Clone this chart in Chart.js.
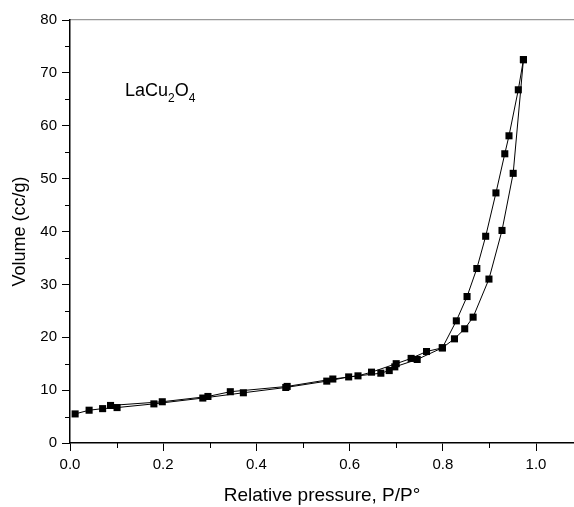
<!DOCTYPE html>
<html>
<head>
<meta charset="utf-8">
<script src="https://cdn.jsdelivr.net/npm/chart.js@4.4.1/dist/chart.umd.min.js"></script>
<style>
  html, body { margin: 0; padding: 0; background: #fff; }
  #box { width: 574px; height: 507px; }
</style>
</head>
<body>
<div id="box"><canvas id="myChart"></canvas></div>
<script>
// adsorption branch (low -> high pressure)
const adsX = [0.011, 0.041, 0.070, 0.101, 0.180, 0.285, 0.372, 0.463, 0.551, 0.598, 0.667, 0.685, 0.697, 0.745, 0.799, 0.825, 0.847, 0.865, 0.899, 0.927, 0.951, 0.973];
const adsY = [5.5, 6.2, 6.5, 6.7, 7.4, 8.5, 9.5, 10.5, 11.7, 12.5, 13.2, 13.7, 14.4, 15.8, 18.0, 19.7, 21.6, 23.8, 31.0, 40.2, 51.0, 72.5];
// desorption branch (high -> low pressure)
const desX = [0.973, 0.962, 0.942, 0.933, 0.914, 0.892, 0.873, 0.852, 0.829, 0.799, 0.765, 0.732, 0.700, 0.647, 0.618, 0.564, 0.466, 0.344, 0.296, 0.198, 0.087];
const desY = [72.5, 66.8, 58.1, 54.7, 47.3, 39.1, 33.0, 27.7, 23.1, 18.0, 17.3, 16.0, 15.0, 13.4, 12.7, 12.1, 10.7, 9.7, 8.8, 7.8, 7.1];

const xTicks = [0, 0.2, 0.4, 0.6, 0.8, 1.0];
const yTicks = [0, 10, 20, 30, 40, 50, 60, 70, 80];
const xMinor = [0.1, 0.3, 0.5, 0.7, 0.9];
const yMinor = [5, 15, 25, 35, 45, 55, 65, 75];

const FONT = 'Arial, "Liberation Sans", sans-serif';

function toPoints(xs, ys) {
    return xs.map((x, i) => ({ x: x, y: ys[i] }));
}

// short minor ticks + the sample name
const extrasPlugin = {
    id: 'extras',
    afterDraw(chart) {
        const { ctx, chartArea } = chart;
        const xs = chart.scales.x, ys = chart.scales.y;
        ctx.save();
        ctx.strokeStyle = '#000';
        ctx.lineWidth = 1;
        ctx.beginPath();
        xMinor.forEach(v => {
            const px = Math.round(xs.getPixelForValue(v)) + 0.5;
            ctx.moveTo(px, chartArea.bottom);
            ctx.lineTo(px, chartArea.bottom + 5);
        });
        yMinor.forEach(v => {
            const py = Math.round(ys.getPixelForValue(v)) + 0.5;
            ctx.moveTo(chartArea.left, py);
            ctx.lineTo(chartArea.left - 5, py);
        });
        ctx.stroke();

        // LaCu2O4 with subscripts
        const parts = [['LaCu', false], ['2', true], ['O', false], ['4', true]];
        let x = xs.getPixelForValue(0.118);
        const y = ys.getPixelForValue(65.6);
        ctx.fillStyle = '#000';
        ctx.textBaseline = 'alphabetic';
        parts.forEach(([t, sub]) => {
            ctx.font = (sub ? '12px ' : '18px ') + FONT;
            ctx.fillText(t, x, sub ? y + 6 : y);
            x += ctx.measureText(t).width;
        });
        ctx.restore();
    }
};

const noSidePadding = s => { s.paddingLeft = 0; s.paddingRight = 0; };

const ctx = document.getElementById('myChart').getContext('2d');

const myChart = new Chart(ctx, {
    type: 'scatter',
    data: {
        datasets: [
            {
                label: 'Adsorption',
                data: toPoints(adsX, adsY),
                showLine: true,
                borderColor: '#000',
                borderWidth: 1,
                backgroundColor: '#000',
                pointStyle: 'rect',
                pointRadius: 5,
                pointBorderWidth: 0,
                pointBackgroundColor: '#000'
            },
            {
                label: 'Desorption',
                data: toPoints(desX, desY),
                showLine: true,
                borderColor: '#000',
                borderWidth: 1,
                backgroundColor: '#000',
                pointStyle: 'rect',
                pointRadius: 5,
                pointBorderWidth: 0,
                pointBackgroundColor: '#000'
            }
        ]
    },
    options: {
        responsive: true,
        maintainAspectRatio: false,
        animation: false,
        layout: { padding: 0, autoPadding: false },
        plugins: {
            legend: { display: false },
            tooltip: { enabled: false }
        },
        scales: {
            x: {
                type: 'linear',
                position: 'bottom',
                min: 0,
                max: 1.0815,
                afterBuildTicks: s => { s.ticks = xTicks.map(v => ({ value: v })); },
                afterFit: s => { s.height = 64; noSidePadding(s); },
                grid: { drawOnChartArea: false, tickLength: 8, color: '#000', lineWidth: 1 },
                border: { color: '#000', width: 1.5 },
                ticks: {
                    color: '#000',
                    padding: 5,
                    maxRotation: 0,
                    font: { family: FONT, size: 15 },
                    callback: v => Number(v).toFixed(1)
                },
                title: {
                    display: true,
                    text: 'Relative pressure, P/P°',
                    color: '#000',
                    font: { family: FONT, size: 19 },
                    padding: { top: 0, bottom: 0 }
                }
            },
            x2: {
                type: 'linear',
                position: 'top',
                min: 0,
                max: 1,
                afterFit: s => { s.height = 20; noSidePadding(s); },
                grid: { display: false },
                ticks: { display: false },
                border: { color: '#999', width: 1.2 }
            },
            y: {
                type: 'linear',
                position: 'left',
                min: 0,
                max: 80,
                afterBuildTicks: s => { s.ticks = yTicks.map(v => ({ value: v })); },
                afterFit: s => { s.width = 70; },
                grid: { drawOnChartArea: false, tickLength: 8, color: '#000', lineWidth: 1 },
                border: { color: '#000', width: 1.5 },
                ticks: {
                    color: '#000',
                    padding: 5,
                    font: { family: FONT, size: 15 }
                },
                title: {
                    display: true,
                    text: 'Volume (cc/g)',
                    color: '#000',
                    font: { family: FONT, size: 18 },
                    padding: { top: 9, bottom: 0 }
                }
            }
        }
    },
    plugins: [extrasPlugin]
});
</script>
</body>
</html>
